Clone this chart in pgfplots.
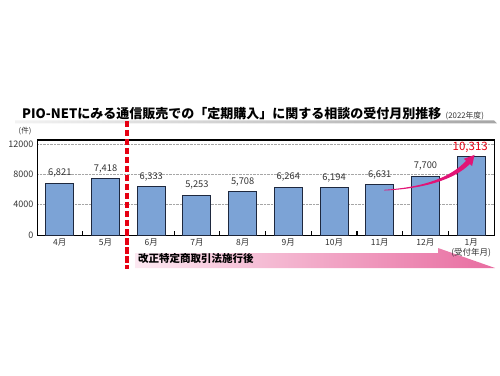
\documentclass[border=0pt]{standalone}
\usepackage{fontspec}
\setmainfont{Noto Sans CJK JP}
\usepackage{pgfplots}
\pgfplotsset{compat=1.18}
\definecolor{barblue}{RGB}{124,163,214}
\definecolor{baredge}{RGB}{30,40,62}
\definecolor{redline}{RGB}{230,0,18}
\definecolor{arrowmag}{RGB}{226,20,118}
\definecolor{pinkL}{RGB}{252,232,241}
\definecolor{pinkR}{RGB}{232,108,160}
\definecolor{lbl}{RGB}{50,50,50}
\begin{document}
\begin{tikzpicture}
\useasboundingbox (0pt,0pt) rectangle (500pt,375pt);
% title
\node[anchor=base west, font=\fontsize{13}{15}\selectfont\bfseries, inner sep=0] (t) at (22pt,256pt) {PIO-NETにみる通信販売での「定期購入」に関する相談の受付月別推移};
\node[anchor=base west, font=\fontsize{7.8}{9}\selectfont, inner sep=0, text=lbl] at ([xshift=4pt]t.base east) {(2022年度)};
\shade[left color=gray!10, right color=gray!70] (15pt,251.5pt) -- (497pt,251.5pt) -- (494pt,254.5pt) -- (15pt,254.5pt) -- cycle;
% pink band
\shade[left color=pinkL, right color=pinkR] (135pt,107pt) -- (495pt,107pt) -- (438pt,127pt) -- (438pt,122pt) -- (135pt,122pt) -- cycle;
\node[anchor=base west, font=\fontsize{10.5}{12}\selectfont\bfseries, inner sep=0] at (138pt,113pt) {改正特定商取引法施行後};
% unit
\node[font=\fontsize{7.5}{8}\selectfont, text=lbl, inner sep=0] at (25pt,244pt) {(件)};
\begin{axis}[
  at={(37pt,140pt)}, anchor=south west, scale only axis,
  width=457pt, height=95pt,
  xmin=-0.5, xmax=9.5, ymin=0, ymax=12500,
  ytick={0,4000,8000,12000},
  scaled y ticks=false,
  /pgf/number format/assume math mode=true,
  yticklabel style={font=\fontsize{9}{10}\selectfont, text=lbl, /pgf/number format/1000 sep={}},
  ymajorgrids, grid style={densely dotted, gray!70},
  xtick={0,...,9},
  xticklabels={4月,5月,6月,7月,8月,9月,10月,11月,12月,{1月\\(受付年月)}},
  xticklabel style={font=\fontsize{8.5}{10.5}\selectfont, text=lbl, align=center},
  minor xtick={0.5,1.5,...,8.5},
  major tick length=0pt, minor tick length=4pt,
  minor tick style={line width=1.2pt, black},
  xtick pos=bottom, ytick pos=left,
  axis line style={line width=1pt},
  clip=false,
]
\addplot[ybar, bar shift=0pt, bar width=28pt, fill=barblue, draw=baredge, line width=1pt,
  nodes near coords, nodes near coords style={font=\fontsize{9.3}{10}\selectfont, text=lbl, yshift=2pt, /pgf/number format/1000 sep={,}}]
  coordinates {(0,6821) (1,7418) (2,6333) (3,5253) (4,5708) (5,6264) (6,6194) (7,6631) (8,7700)};
\addplot[ybar, bar shift=0pt, bar width=28pt, fill=barblue, draw=baredge, line width=1pt]
  coordinates {(9,10313)};
\node[anchor=south, text=redline, font=\fontsize{11.5}{12}\selectfont, inner sep=0] at (axis cs:8.98,10850) {10,313};
% tapered curved arrow
\fill[arrowmag] (axis cs:7.1,5950) .. controls (axis cs:8.0,6300) and (axis cs:8.56,7650) .. (axis cs:8.889,9766)
  -- (axis cs:8.8395,10026) -- (axis cs:9.074,10540) -- (axis cs:9.0205,9074) -- (axis cs:8.971,9334)
  .. controls (axis cs:8.64,7350) and (axis cs:8.0,6100) .. (axis cs:7.1,5850) -- cycle;
\end{axis}
% red dashed line
\draw[redline, line width=3.5pt, dash pattern=on 6.5pt off 2.5pt] (127pt,254pt) -- (127pt,106pt);
\end{tikzpicture}
\end{document}
